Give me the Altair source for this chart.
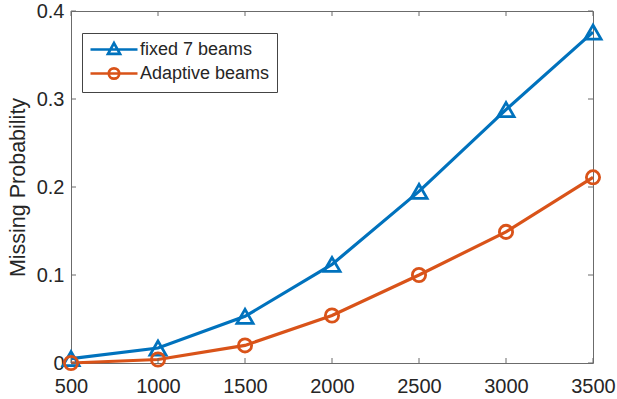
import altair as alt
import pandas as pd

# ---- data ----
x_vals = [500, 1000, 1500, 2000, 2500, 3000, 3500]
fixed_7 = [0.005, 0.017, 0.053, 0.112, 0.195, 0.288, 0.376]
adaptive = [0.000, 0.004, 0.020, 0.054, 0.100, 0.149, 0.211]
series_names = ["fixed 7 beams", "Adaptive beams"]
x_ticks = [500, 1000, 1500, 2000, 2500, 3000, 3500]
y_ticks = [0, 0.1, 0.2, 0.3, 0.4]

BLUE = "#0072BD"
ORANGE = "#D95319"
TEXT = "#262626"
AXC = "#6b6b6b"
FONT = "Liberation Sans"
W, H = 522, 352

rows = []
for xv, a, b in zip(x_vals, fixed_7, adaptive):
    rows.append({"n": xv, "p": a, "series": series_names[0]})
    rows.append({"n": xv, "p": b, "series": series_names[1]})
df = pd.DataFrame(rows)

xscale = alt.Scale(domain=[500, 3500], nice=False, zero=False)
yscale = alt.Scale(domain=[0, 0.4], nice=False, zero=True)

xaxis = alt.Axis(values=x_ticks, format="d", title=None, labelFontSize=20,
                 labelPadding=13, ticks=False, domain=False, grid=False,
                 labelFlush=False, labelOverlap=False)
yaxis = alt.Axis(values=y_ticks, format="~g", title="Missing Probability",
                 labelFontSize=20, titleFontSize=21.5, titleFontWeight="normal",
                 labelPadding=7, titlePadding=7, ticks=False, domain=False,
                 grid=False, labelFlush=False, labelOverlap=False)


def X(field):
    return alt.X(field, scale=xscale, axis=xaxis, title=None)


def Y(field):
    return alt.Y(field, scale=yscale, axis=yaxis, title="Missing Probability")


base = alt.Chart(df)

layers = []
for name, col in zip(series_names, [BLUE, ORANGE]):
    sub = base.transform_filter(alt.datum.series == name)
    layers.append(
        sub.mark_line(strokeWidth=3.2, color=col).encode(x=X("n:Q"), y=Y("p:Q"))
    )
layers.append(
    base.transform_filter(alt.datum.series == series_names[0])
    .mark_point(shape="triangle-up", size=260, filled=False, strokeWidth=2.8,
                color=BLUE, opacity=1)
    .encode(x=X("n:Q"), y=Y("p:Q"))
)
layers.append(
    base.transform_filter(alt.datum.series == series_names[1])
    .mark_point(shape="circle", size=175, filled=False, strokeWidth=2.8,
                color=ORANGE, opacity=1)
    .encode(x=X("n:Q"), y=Y("p:Q"))
)

# legend symbols: line with marker
tri_path = "M-1,0L4.875,0M1.9375,-0.8L2.6875,0.55L1.1875,0.55Z"
circ_path = ("M-1,0L4.875,0M2.5875,0A0.65,0.65,0,1,1,1.2875,0"
             "A0.65,0.65,0,1,1,2.5875,0Z")
leg = alt.Legend(title=None, orient="none", legendX=11, legendY=22,
                 labelFontSize=18, labelFont=FONT, labelColor=TEXT,
                 symbolSize=256, symbolStrokeWidth=2.7, symbolOpacity=1,
                 labelOffset=32, padding=7, rowPadding=2,
                 strokeColor="#444444", fillColor="white")
layers.append(
    base.mark_point(opacity=0, filled=False, size=256, strokeWidth=2.5).encode(
        x=X("n:Q"),
        y=Y("p:Q"),
        color=alt.Color("series:N", scale=alt.Scale(domain=series_names, range=[BLUE, ORANGE]), legend=leg),
        shape=alt.Shape("series:N", scale=alt.Scale(domain=series_names, range=[tri_path, circ_path]), legend=leg),
    )
)

# inward ticks (MATLAB style), on all four sides
xt = alt.Chart(pd.DataFrame({"n": x_ticks}))
yt = alt.Chart(pd.DataFrame({"p": y_ticks}))
TL = 5
layers.append(xt.mark_rule(color=AXC, strokeWidth=1).encode(
    x=X("n:Q"), y=alt.value(H), y2=alt.value(H - TL)))
layers.append(xt.mark_rule(color=AXC, strokeWidth=1).encode(
    x=X("n:Q"), y=alt.value(0), y2=alt.value(TL)))
layers.append(yt.mark_rule(color=AXC, strokeWidth=1).encode(
    y=Y("p:Q"), x=alt.value(0), x2=alt.value(TL)))
layers.append(yt.mark_rule(color=AXC, strokeWidth=1).encode(
    y=Y("p:Q"), x=alt.value(W), x2=alt.value(W - TL)))

chart = alt.layer(*layers).properties(
    width=W, height=H,
    autosize=alt.AutoSizeParams(type="none"),
    padding={"left": 71, "top": 11, "right": 24, "bottom": 36},
    background="white",
).configure_view(
    stroke=AXC, strokeWidth=1
).configure_axis(
    labelFont=FONT, titleFont=FONT, labelColor=TEXT, titleColor=TEXT
)

chart.save("out.html", embed_options={"renderer": "svg", "actions": False})
